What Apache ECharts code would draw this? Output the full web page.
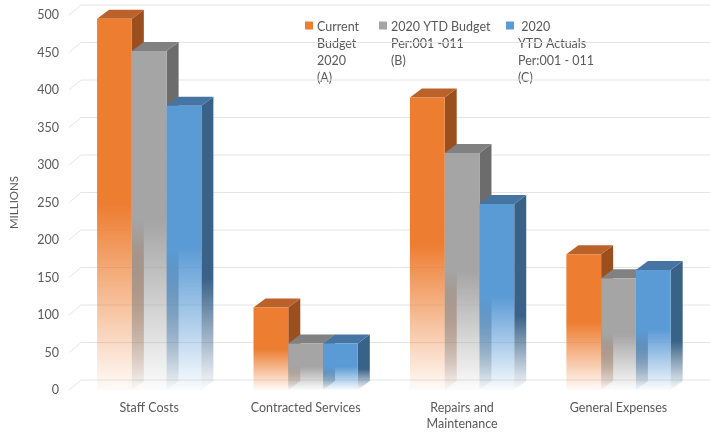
<!DOCTYPE html>
<html>
<head>
<meta charset="utf-8">
<script src="https://cdn.jsdelivr.net/npm/echarts@6/dist/echarts.min.js"></script>
<style>
  html, body { margin: 0; padding: 0; background: #ffffff; }
  #chart { width: 710px; height: 434px; }
</style>
</head>
<body>
<div id="chart"></div>
<script>
// Expense categories along the horizontal axis
const categories = ['Staff Costs', 'Contracted Services', 'Repairs and\nMaintenance', 'General Expenses'];

// Series names as they appear (wrapped) in the legend
const seriesNames = [
  'Current\nBudget\n2020\n(A)',
  '2020 YTD Budget\nPer:001 -011\n(B)',
  ' 2020\nYTD Actuals\nPer:001 - 011\n(C)'
];

// Values in millions
const currentBudget = [495, 110, 390, 181];
const ytdBudget = [452, 62, 316, 149];
const ytdActuals = [379, 62, 248, 160];

// Value-axis ticks
const valueTicks = [0, 50, 100, 150, 200, 250, 300, 350, 400, 450, 500];

// Face colours for each series: front, top and right side
const palettes = [
  { front: '#ED7D31', top: '#BA622A', side: '#9B4E1E' },
  { front: '#A5A5A5', top: '#818181', side: '#6C6C6C' },
  { front: '#5B9BD5', top: '#4675A3', side: '#3A6288' }
];

const FONT = 'Lato, "Open Sans", sans-serif';
const TEXT_COLOR = '#595959';
const BAR_FRACTION = 35 / 157.5;   // front-face width as a share of the category band
const DX = 12, DY = -9;            // oblique depth offset of the bars
const WALL_DY = -10;               // back-wall gridlines sit slightly higher
const LEGEND_LINE = 17.3;
const LEGEND_ICON_X = [305, 379, 506];
const LEGEND_ICON_CY = 25.5;
const LEGEND_TEXT_CY = 26.5;

function hexToRgba(hex, a) {
  const n = parseInt(hex.slice(1), 16);
  return 'rgba(' + ((n >> 16) & 255) + ',' + ((n >> 8) & 255) + ',' + (n & 255) + ',' + a + ')';
}

// vertical gradient: solid at the top, fading out toward the floor
function fade(hex, start, endAlpha) {
  return {
    type: 'linear', x: 0, y: 0, x2: 0, y2: 1,
    colorStops: [
      { offset: 0, color: hexToRgba(hex, 1) },
      { offset: start, color: hexToRgba(hex, 1) },
      { offset: 1, color: hexToRgba(hex, endAlpha) }
    ]
  };
}

function barRenderer(palette, slot) {
  return function (params, api) {
    const ci = api.value(0);
    const v = api.value(1);
    const base = api.coord([ci, 0]);
    const top = api.coord([ci, v]);
    const band = api.size([1, 0])[0];
    const w = band * BAR_FRACTION;
    const x0 = base[0] + (slot - 1.5) * w;
    const x1 = x0 + w;
    const yb = base[1];
    const yt = top[1];
    return {
      type: 'group',
      children: [
        {
          type: 'polygon',
          shape: { points: [[x1, yt], [x1 + DX, yt + DY], [x1 + DX, yb + DY], [x1, yb]] },
          style: { fill: fade(palette.side, 0.62, 0.02) }
        },
        {
          type: 'polygon',
          shape: { points: [[x0, yt], [x0 + DX, yt + DY], [x1 + DX, yt + DY], [x1, yt]] },
          style: { fill: palette.top }
        },
        {
          type: 'rect',
          shape: { x: x0, y: yt, width: w, height: yb - yt },
          style: { fill: fade(palette.front, 0.5, 0.03) }
        }
      ]
    };
  };
}

function wallGridRenderer(params, api) {
  const p = api.coord([0, api.value(1)]);
  const left = p[0] - api.size([1, 0])[0] / 2;
  return {
    type: 'polyline',
    shape: { points: [[left - 2, p[1]], [left + 10, p[1] + WALL_DY], [api.getWidth(), p[1] + WALL_DY]] },
    style: { stroke: '#E4E4E4', lineWidth: 1, fill: null }
  };
}

// legend key: square swatch next to the first line of a wrapped name
function legendEntry(name, iconX, palette) {
  return {
    type: 'group',
    children: [
      {
        type: 'rect',
        shape: { x: iconX, y: LEGEND_ICON_CY - 4, width: 8, height: 8 },
        style: { fill: palette.front }
      },
      {
        type: 'text',
        x: iconX + 12,
        y: LEGEND_TEXT_CY - LEGEND_LINE / 2,
        style: {
          text: name,
          fill: TEXT_COLOR,
          font: '12.5px ' + FONT,
          lineHeight: LEGEND_LINE,
          verticalAlign: 'top',
          align: 'left'
        }
      }
    ]
  };
}

const seriesValues = [currentBudget, ytdBudget, ytdActuals];

const chart = echarts.init(document.getElementById('chart'), null, { renderer: 'canvas' });

chart.setOption({
  animation: false,
  color: palettes.map(p => p.front),
  graphic: seriesNames.map((n, i) => legendEntry(n, LEGEND_ICON_X[i], palettes[i])),
  grid: { left: 66.75, right: 13.25, top: 15, bottom: 44, containLabel: false },
  xAxis: {
    type: 'category',
    data: categories,
    axisLine: { show: false },
    axisTick: { show: false },
    splitLine: { show: false },
    axisLabel: {
      interval: 0, color: TEXT_COLOR, fontSize: 12.5, fontFamily: FONT,
      margin: 9.5, lineHeight: 16.5
    }
  },
  yAxis: {
    type: 'value',
    min: 0, max: 500, interval: 50,
    name: 'MILLIONS',
    nameLocation: 'middle',
    nameGap: 51,
    nameRotate: 90,
    nameTextStyle: { color: TEXT_COLOR, fontSize: 11.5, fontFamily: FONT },
    axisLine: { show: false },
    axisTick: { show: false },
    splitLine: { show: false },
    axisLabel: {
      color: TEXT_COLOR, fontSize: 12.5, fontFamily: FONT, margin: 12,
      customValues: valueTicks
    }
  },
  series: [
    {
      type: 'custom',
      silent: true,
      z: 0,
      renderItem: wallGridRenderer,
      data: valueTicks.map(t => [0, t])
    }
  ].concat(seriesValues.map((vals, i) => ({
    type: 'custom',
    name: seriesNames[i],
    z: 2,
    itemStyle: { color: palettes[i].front },
    renderItem: barRenderer(palettes[i], i),
    data: vals.map((v, ci) => [ci, v])
  })))
});
</script>
</body>
</html>
